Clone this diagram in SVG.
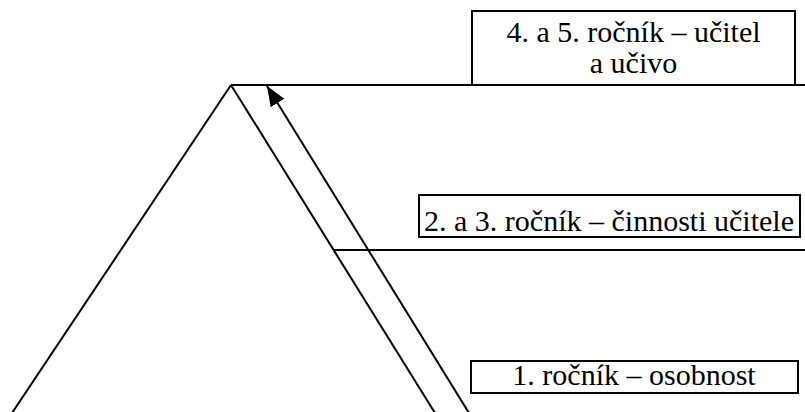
<svg xmlns="http://www.w3.org/2000/svg" width="805" height="412" viewBox="0 0 805 412">
  <style>
    .ln { stroke: #000; stroke-width: 2; fill: none; }
    .box { stroke: #000; stroke-width: 2; fill: #fff; }
    .lbl { font-family: "Liberation Serif", "Times New Roman", serif; font-size: 30px; fill: #000; text-anchor: middle; }
  </style>
  <defs>
    <marker id="head" markerUnits="userSpaceOnUse" markerWidth="22" markerHeight="18" refX="20" refY="9" orient="auto">
      <polygon points="0,1 20,9 0,17" fill="#000"/>
    </marker>
  </defs>

  <rect width="805" height="412" fill="#fff"/>

  <!-- pyramid outline and level dividers -->
  <g id="pyramid">
    <line class="ln" x1="231" y1="85" x2="12" y2="413"/>
    <line class="ln" x1="231" y1="85" x2="435" y2="413"/>
    <line class="ln" x1="231" y1="85" x2="805" y2="85"/>
    <line class="ln" x1="334" y1="250" x2="805" y2="250"/>
  </g>

  <!-- upward progression arrow -->
  <g id="connectors">
    <line class="ln" x1="469" y1="413" x2="267" y2="86" marker-end="url(#head)"/>
  </g>

  <g id="level-top">
    <rect class="box" x="472" y="11" width="323" height="74"/>
    <text class="lbl" x="633.5" y="42">4. a 5. ročník – učitel</text>
    <text class="lbl" x="633.5" y="73">a učivo</text>
  </g>

  <g id="level-middle">
    <rect class="box" x="419" y="195" width="381" height="42"/>
    <text class="lbl" x="609" y="231">2. a 3. ročník – činnosti učitele</text>
  </g>

  <g id="level-bottom">
    <rect class="box" x="471" y="361" width="327" height="32"/>
    <text class="lbl" x="634" y="385">1. ročník – osobnost</text>
  </g>
</svg>
